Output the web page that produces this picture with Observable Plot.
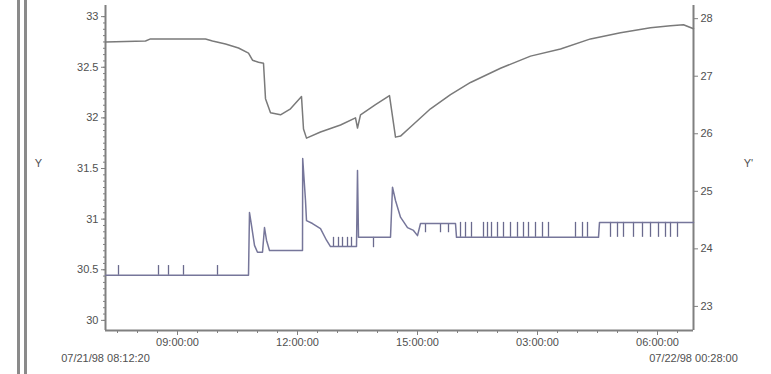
<!DOCTYPE html>
<html><head><meta charset="utf-8">
<script src="https://cdn.jsdelivr.net/npm/d3@7"></script>
<script src="https://cdn.jsdelivr.net/npm/@observablehq/plot@0.6"></script>
<style>
html,body{margin:0;padding:0;background:#fff;}
#wrap{position:relative;width:771px;height:374px;overflow:hidden;background:#fff;}
#wrap svg{position:absolute;left:0;top:0;}
.bar{position:absolute;top:0;width:3px;height:374px;background:#8a8a8a;}
</style></head><body>
<div id="wrap"><div class="bar" style="left:17px"></div><div class="bar" style="left:24px"></div></div>
<script>
// ---- data (time in hours from start of record) ----
const upperTime  = [0,1.0,1.125,2.5,2.675,3.0,3.325,3.575,3.675,3.825,3.95,4.0,4.125,4.375,4.625,4.9,4.95,5.025,5.375,5.875,6.25,6.3,6.375,6.75,7.1,7.25,7.375,7.625,8.125,8.625,9.125,9.875,10.625,11.375,12.125,12.875,13.625,14.125,14.45,14.7];
const upperValue = [32.75,32.76,32.78,32.78,32.76,32.73,32.69,32.64,32.57,32.55,32.54,32.19,32.05,32.03,32.09,32.21,31.89,31.80,31.86,31.93,32.00,31.90,32.03,32.13,32.22,31.81,31.82,31.91,32.09,32.23,32.35,32.49,32.61,32.68,32.78,32.84,32.89,32.91,32.92,32.88];

const lowerTime  = [0,3.575,3.6,3.65,3.725,3.8,3.925,3.975,4.025,4.1,4.925,4.93,5.0,5.025,5.175,5.375,5.525,5.625,6.2,6.275,6.3,6.325,7.125,7.175,7.25,7.375,7.55,7.7,7.8,7.875,8.75,8.775,12.325,12.35,14.7];
const lowerValue = [23.54,23.54,24.63,24.41,24.06,23.94,23.94,24.37,24.15,23.97,23.97,25.57,24.84,24.49,24.44,24.35,24.15,24.04,24.04,24.04,25.36,24.20,24.20,25.07,24.84,24.55,24.37,24.32,24.23,24.44,24.44,24.20,24.20,24.46,24.46];

// short single-sample excursions of the lower record
const spikeTime = [0.325,1.325,1.575,1.95,2.8, 5.7,5.825,5.925,6.05,6.15, 6.7, 8.0,8.375,8.575,
  8.875,9.0,9.15,9.45,9.55,9.65,9.8,9.95,10.125,10.3,10.45,10.575,10.75,10.925,11.075,11.75,11.925,12.05,
  12.625,12.8,12.95,13.2,13.425,13.625,13.825,14.0,14.125,14.3];
const spikeFrom = [23.54,23.54,23.54,23.54,23.54, 24.04,24.04,24.04,24.04,24.04, 24.20, 24.44,24.44,24.44,
  24.20,24.20,24.20,24.20,24.20,24.20,24.20,24.20,24.20,24.20,24.20,24.20,24.20,24.20,24.20,24.20,24.20,24.20,
  24.46,24.46,24.46,24.46,24.46,24.46,24.46,24.46,24.46,24.46];
const spikeTo   = [23.71,23.71,23.71,23.71,23.71, 24.20,24.20,24.20,24.20,24.20, 24.02, 24.28,24.28,24.28,
  24.46,24.46,24.46,24.46,24.46,24.46,24.46,24.46,24.46,24.46,24.46,24.46,24.46,24.46,24.46,24.46,24.46,24.46,
  24.20,24.20,24.20,24.20,24.20,24.20,24.20,24.20,24.20,24.20];

const xTickHours  = [1.8,4.8,7.8,10.8,13.8];
const xTickLabels = ["09:00:00","12:00:00","15:00:00","03:00:00","06:00:00"];
const startLabel = "07/21/98 08:12:20";
const endLabel   = "07/22/98 00:28:00";
const leftTicks  = [30,30.5,31,31.5,32,32.5,33];
const rightTicks = [23,24,25,26,27,28];
const leftTitle = "Y";
const rightTitle = "Y'";

// secondary (right) axis mapped onto the left scale
const toLeft = r => 30.138 + (r - 23) * 0.5684;
const fromLeft = v => 23 + (v - 30.138) / 0.5684;

const tEnd = 14.7, yLow = 29.9, yHigh = 33.11;
const minorY = d3.range(30, 33.0001, 0.0625);
const minorX = d3.range(0.3, tEnd, 0.5);

const ui = d3.range(upperTime.length);
const li = d3.range(lowerTime.length);
const si = d3.range(spikeTime.length);

const axisColor = "#808080";
const chart = Plot.plot({
  width: 771, height: 374,
  marginLeft: 105, marginRight: 78, marginTop: 5, marginBottom: 44,
  x: {domain: [0, tEnd], label: null},
  y: {domain: [yLow, yHigh], label: null},
  style: {fontFamily: "'Liberation Sans', Arial, sans-serif", fontSize: "11px", color: "#505050", background: "transparent"},
  marks: [
    Plot.axisY({ticks: minorY, tickSize: 2, tickFormat: () => "", label: null, stroke: axisColor}),
    Plot.axisY({ticks: leftTicks, tickSize: 4, tickPadding: 3, tickFormat: d => String(d), label: null, stroke: axisColor}),
    Plot.axisY({anchor: "right", ticks: rightTicks.map(toLeft), tickSize: 4, tickPadding: 3,
      tickFormat: d => String(Math.round(fromLeft(d))), label: null, stroke: axisColor}),
    Plot.axisX({ticks: minorX, tickSize: 3, tickFormat: () => "", label: null, stroke: axisColor}),
    Plot.axisX({ticks: xTickHours, tickSize: 5, tickPadding: 3,
      tickFormat: d => xTickLabels[xTickHours.indexOf(d)], label: null, stroke: axisColor}),
    Plot.ruleX([0, tEnd], {stroke: axisColor, strokeWidth: 2}),
    Plot.ruleY([yLow], {stroke: axisColor, strokeWidth: 2}),
    Plot.ruleX(si, {x: i => spikeTime[i], y1: i => toLeft(spikeFrom[i]), y2: i => toLeft(spikeTo[i]), stroke: "#6a6a8e", strokeWidth: 1.3}),
    Plot.line(li, {x: i => lowerTime[i], y: i => toLeft(lowerValue[i]), stroke: "#76769a", strokeWidth: 1.5}),
    Plot.line(ui, {x: i => upperTime[i], y: i => upperValue[i], stroke: "#7a7a7a", strokeWidth: 1.5}),
    Plot.text([startLabel], {x: 0, y: yLow, dy: 28, textAnchor: "middle", fill: "#505050"}),
    Plot.text([endLabel], {x: tEnd, y: yLow, dy: 28, textAnchor: "middle", fill: "#505050"}),
    Plot.text([leftTitle], {x: 0, y: 31.55, dx: -67, textAnchor: "middle", fill: "#505050"}),
    Plot.text([rightTitle], {x: tEnd, y: 31.55, dx: 55, textAnchor: "middle", fill: "#505050"})
  ]
});
document.getElementById("wrap").appendChild(chart);
</script>
</body></html>
